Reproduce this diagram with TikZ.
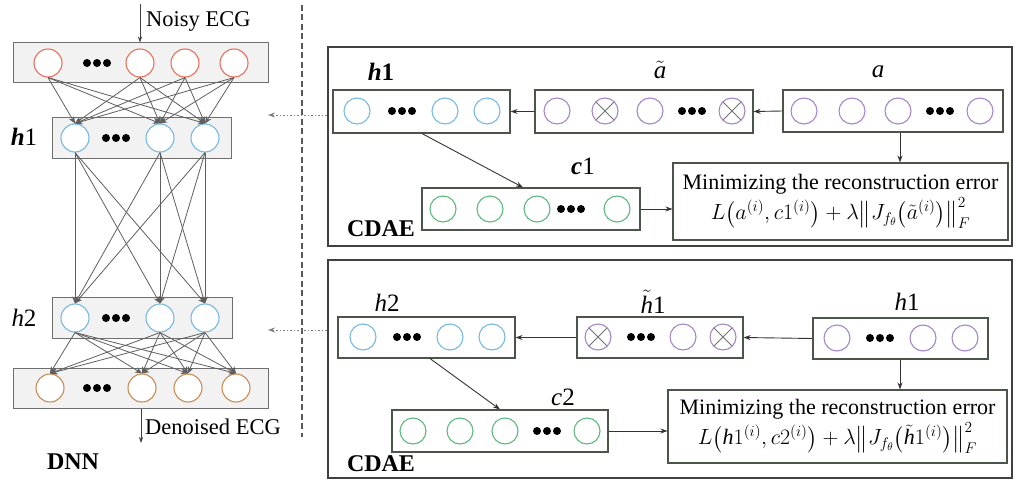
\RequirePackage{fix-cm}
\documentclass[tikz,border=0pt]{standalone}
\usepackage{amsmath,amssymb}
\usepackage{fontspec}
\setmainfont{Liberation Serif}
\usetikzlibrary{arrows.meta,calc}
\definecolor{cred}{RGB}{232,112,92}
\definecolor{cblue}{RGB}{120,185,225}
\definecolor{cpurp}{RGB}{165,135,200}
\definecolor{cgreen}{RGB}{95,185,125}
\definecolor{cbrown}{RGB}{200,140,85}
\definecolor{boxline}{RGB}{75,85,75}
\definecolor{panline}{RGB}{65,65,65}
\definecolor{netline}{RGB}{95,95,95}
\tikzset{
  dnnbox/.style={draw=netline!90, fill=black!5, line width=1pt, inner sep=0pt},
  aebox/.style={draw=boxline, fill=white, line width=1.1pt, inner sep=0pt},
  panel/.style={draw=panline, line width=2.4pt, inner sep=0pt},
  minbox/.style={draw=boxline, fill=white, line width=1.1pt, inner sep=2pt, align=center,
    font=\fontsize{22}{30}\selectfont},
  nc/.style={circle, minimum size=26pt, inner sep=0pt, line width=1.1pt, fill=white},
  dc/.style={nc, minimum size=28pt},
  ncx/.style={nc, draw=cpurp, path picture={
      \draw[black!55, line width=1pt] (path picture bounding box.north west) -- (path picture bounding box.south east)
        (path picture bounding box.north east) -- (path picture bounding box.south west);}},
  netarrow/.style={-{Stealth[length=7pt,width=6pt]}, draw=netline, line width=0.8pt},
  conn/.style={-{Stealth[length=7pt,width=5pt]}, draw=black!80, line width=0.9pt},
  thinarrow/.style={-{Stealth[length=6pt,width=4pt]}, draw=black!75, line width=0.7pt},
  dotarrow/.style={-{Stealth[length=7pt,width=5pt]}, draw=black!50, line width=0.9pt, dash pattern=on 1.5pt off 2pt},
  lab/.style={font=\fontsize{25}{28}\selectfont, inner sep=0pt},
  txt/.style={font=\fontsize{22.5}{26}\selectfont, inner sep=0pt},
  bold/.style={font=\fontsize{24}{26}\selectfont\bfseries, inner sep=0pt},
  tdots/.pic={\fill (-10,0) circle[radius=4] (0,0) circle[radius=4] (10,0) circle[radius=4];}
}
\begin{document}
\begin{tikzpicture}[x=1pt,y=-1pt]
\useasboundingbox (0,0) rectangle (1016,481);
\fill[white] (0,0) rectangle (1016,481);

% ---------------- DNN ----------------
\node[dnnbox, minimum width=255pt, minimum height=40pt] (inbox) at (141,63) {};
\node[dnnbox, minimum width=179pt, minimum height=41pt] (h1box) at (141.5,138.5) {};
\node[dnnbox, minimum width=180pt, minimum height=41pt] (h2box) at (142,317.5) {};
\node[dnnbox, minimum width=255pt, minimum height=40pt] (outbox) at (141,388) {};

\node[dc, draw=cred] (i1) at (48,63) {};
\node[dc, draw=cred] (i2) at (140,63) {};
\node[dc, draw=cred] (i3) at (185,63) {};
\node[dc, draw=cred] (i4) at (234,63) {};
\pic at (97,63) {tdots};

\node[dc, draw=cblue] (a1) at (75,138) {};
\node[dc, draw=cblue] (a2) at (160,138) {};
\node[dc, draw=cblue] (a3) at (205,138) {};
\pic at (116,138) {tdots};

\node[dc, draw=cblue] (b1) at (75,318) {};
\node[dc, draw=cblue] (b2) at (160,318) {};
\node[dc, draw=cblue] (b3) at (205,318) {};
\pic at (116,318) {tdots};

\node[dc, draw=cbrown] (o1) at (50,388) {};
\node[dc, draw=cbrown] (o2) at (142,388) {};
\node[dc, draw=cbrown] (o3) at (188,388) {};
\node[dc, draw=cbrown] (o4) at (236,388) {};
\pic at (97,388) {tdots};

\foreach \s in {i1,i2,i3,i4}{\foreach \t in {a1,a2,a3}{\draw[netarrow] (\s.south) -- (\t.north);}}
\foreach \s in {a1,a2,a3}{\foreach \t in {b1,b2,b3}{\draw[netarrow] (\s.south) -- (\t.north);}}
\foreach \s in {b1,b2,b3}{\foreach \t in {o1,o2,o3,o4}{\draw[netarrow] (\s.south) -- (\t.north);}}

\coordinate (nstart) at (140,4);
\draw[thinarrow] (nstart) -- (nstart |- inbox.north);
\node[txt, anchor=west] (noisy) at (146,21) {Noisy ECG};
\coordinate (dend) at (141,443);
\draw[thinarrow] (dend |- outbox.south) -- (dend);
\node[txt, anchor=west] (denoised) at (145,427) {Denoised ECG};

\node[lab] (lh1) at (24,137) {\textbf{\textit{h}}1};
\node[lab] (lh2) at (24,318) {\textit{h}2};
\node[bold] (dnn) at (73,462) {DNN};

\coordinate (dtop) at (302,5);
\coordinate (dbot) at (302,437);
\draw[black!65, line width=1.2pt, dash pattern=on 6pt off 3.5pt] (dtop) -- (dbot);

% ---------------- panels ----------------
\node[panel, minimum width=684pt, minimum height=199pt] (p1) at (670,146.5) {};
\node[panel, minimum width=684pt, minimum height=218pt] (p2) at (670,369) {};

\coordinate (d1) at (268,115);
\coordinate (d2) at (268,330);
\draw[dotarrow] (p1.west |- d1) -- (d1);
\draw[dotarrow] (p2.west |- d2) -- (d2);

% top panel
\node[aebox, minimum width=177pt, minimum height=43pt] (th) at (421.5,111.5) {};
\node[nc, draw=cblue] at (357,111) {};
\pic at (402,111) {tdots};
\node[nc, draw=cblue] at (445,111) {};
\node[nc, draw=cblue] at (487,111) {};

\node[aebox, minimum width=218pt, minimum height=43pt] (tat) at (644,111.5) {};
\node[nc, draw=cpurp] at (557,111) {};
\node[ncx] at (605,111) {};
\node[nc, draw=cpurp] at (650,111) {};
\pic at (692,111) {tdots};
\node[ncx] at (732,111) {};

\node[aebox, minimum width=220pt, minimum height=42pt] (ta) at (893,111) {};
\node[nc, draw=cpurp] at (804,111) {};
\node[nc, draw=cpurp] at (852,111) {};
\node[nc, draw=cpurp] at (898,111) {};
\pic at (940,111) {tdots};
\node[nc, draw=cpurp] at (980,111) {};

\node[aebox, minimum width=218pt, minimum height=42pt] (tc) at (531,209) {};
\node[nc, draw=cgreen] at (443,209) {};
\node[nc, draw=cgreen] at (490,209) {};
\node[nc, draw=cgreen] at (537,209) {};
\pic at (571,209) {tdots};
\node[nc, draw=cgreen] at (617,209) {};

\node[minbox, minimum width=335pt, minimum height=77pt] (m1) at (840.5,201.5)
  {Minimizing the reconstruction error\\
   $L\bigl(a^{(i)},c1^{(i)}\bigr)+\lambda\bigl\|J_{f_\theta}\bigl(\tilde{a}^{(i)}\bigr)\bigr\|_F^2$};

\node[lab] (lth) at (381,72) {\textbf{\textit{h}1}};
\node[lab] (ltat) at (660,70) {$\tilde{\mathit{a}}$};
\node[lab] (lta) at (878,72) {\textit{a}};
\node[lab] (ltc) at (583,166) {\textbf{\textit{c}}1};
\node[bold] (cdae1) at (381,229) {CDAE};

\draw[conn] (ta.west) -- (tat.east);
\draw[conn] (tat.west) -- (th.east);
\draw[conn] ($(ta.south)+(7,0)$) -- ($(m1.north)+(59.5,0)$);
\draw[conn] ($(th.south)+(0.5,0)$) -- ($(tc.north)+(-8,0)$);
\draw[conn] (tc.east) -- (m1.west |- tc.east);

% bottom panel
\node[aebox, minimum width=177pt, minimum height=41pt] (bh2) at (426.5,337.5) {};
\node[nc, draw=cblue] at (363,337) {};
\pic at (407,337) {tdots};
\node[nc, draw=cblue] at (450,337) {};
\node[nc, draw=cblue] at (492,337) {};

\node[aebox, minimum width=166pt, minimum height=41pt] (bht) at (660,337.5) {};
\node[ncx] at (598,337) {};
\pic at (641,337) {tdots};
\node[nc, draw=cpurp] at (683,337) {};
\node[ncx] at (723,337) {};

\node[aebox, minimum width=175pt, minimum height=41pt] (bh1) at (900.5,338.5) {};
\node[nc, draw=cpurp] at (837,338) {};
\pic at (880,338) {tdots};
\node[nc, draw=cpurp] at (923,338) {};
\node[nc, draw=cpurp] at (965,338) {};

\node[aebox, minimum width=216pt, minimum height=42pt] (bc) at (500,431) {};
\node[nc, draw=cgreen] at (413,431) {};
\node[nc, draw=cgreen] at (460,431) {};
\node[nc, draw=cgreen] at (505,431) {};
\pic at (547,431) {tdots};
\node[nc, draw=cgreen] at (587,431) {};

\node[minbox, minimum width=339pt, minimum height=73pt] (m2) at (837.5,426.5)
  {Minimizing the reconstruction error\\
   $L\bigl(\mathit{h}1^{(i)},c2^{(i)}\bigr)+\lambda\bigl\|J_{f_\theta}\bigl(\tilde{\mathit{h}}1^{(i)}\bigr)\bigr\|_F^2$};

\node[lab] (lbh2) at (387,303) {\textit{h}2};
\node[lab] (lbht) at (653,302) {$\tilde{\mathit{h}}$1};
\node[lab] (lbh1) at (907,302) {\textit{h}1};
\node[lab] (lbc) at (563,397) {\textit{c}2};
\node[bold] (cdae2) at (381,464) {CDAE};

\draw[conn] (bh1.west) -- (bht.east);
\draw[conn] (bht.west) -- (bh2.east);
\draw[conn] ($(bh1.south)+(-0.5,0)$) -- ($(m2.north)+(62.5,0)$);
\draw[conn] ($(bh2.south)+(3.5,0)$) -- ($(bc.north)+(0,0)$);
\draw[conn] (bc.east) -- (m2.west |- bc.east);
\end{tikzpicture}
\end{document}
